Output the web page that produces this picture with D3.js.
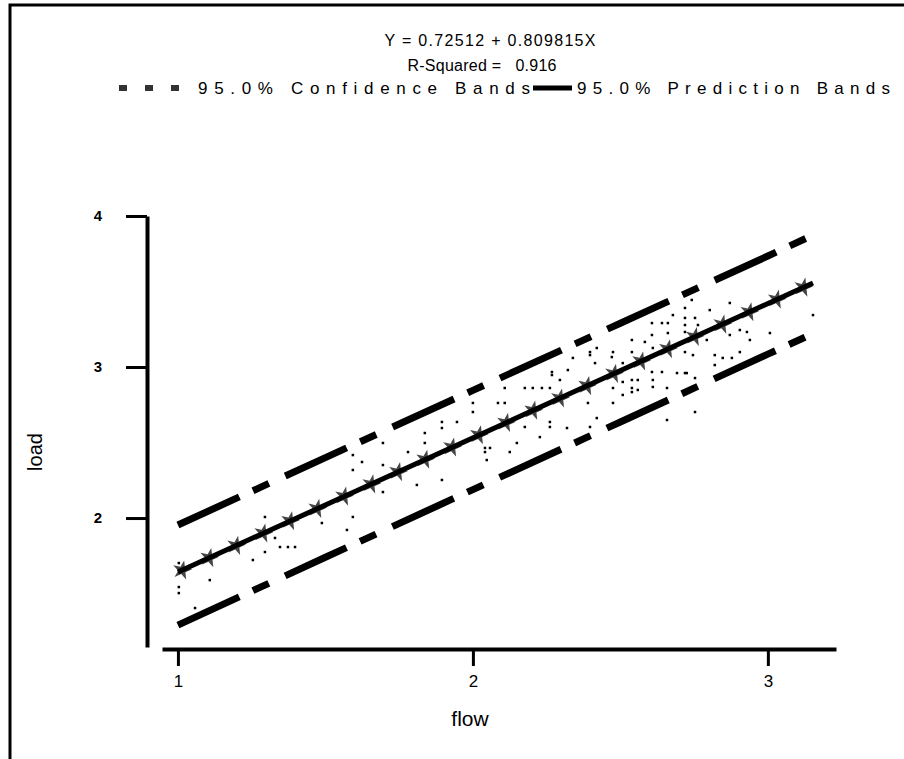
<!DOCTYPE html>
<html>
<head>
<meta charset="utf-8">
<script src="https://cdn.jsdelivr.net/npm/d3@7"></script>
<style>
    body { margin: 0; background: white; }
    text { font-family: "Liberation Sans Narrow", "Arial Narrow", "Liberation Sans", sans-serif; fill: black; }
</style>
</head>
<body>
<div id="canvas"><svg id="chart"></svg></div>
<script>
const flowTicks = [1, 2, 3];
const loadTicks = [2, 3, 4];

const fitFlow = [1.0, 3.153];
const fitLoad = [1.642, 3.556];

const bandFlow = [1.0, 1.5, 2.0, 2.5, 3.0, 3.145];
const upperBand = [1.954, 2.40, 2.845, 3.29, 3.735, 3.866];
const lowerBand = [1.291, 1.74, 2.188, 2.636, 3.085, 3.214];

const starFlow = [1.014, 1.106, 1.197, 1.289, 1.380, 1.472, 1.563, 1.655, 1.746, 1.838, 1.929, 2.020,
                  2.112, 2.204, 2.295, 2.387, 2.478, 2.570, 2.661, 2.752, 2.845, 2.937, 3.030, 3.120];
const starLoad = [1.654, 1.736, 1.817, 1.899, 1.980, 2.062, 2.143, 2.224, 2.305, 2.387, 2.468, 2.549,
                  2.631, 2.712, 2.793, 2.875, 2.956, 3.038, 3.119, 3.200, 3.282, 3.364, 3.447, 3.527];

const dotFlow = [2.678, 2.719, 2.719, 2.763, 2.607, 2.641, 2.661, 2.661, 2.607, 2.539, 2.583, 2.420, 2.397, 2.397,
                 2.475, 2.471, 2.539, 2.610, 2.414, 2.339, 2.508, 2.268, 2.268, 2.322, 2.607, 2.641, 2.692, 2.725,
                 2.295, 2.610, 2.539, 2.559, 2.508, 2.475, 2.539, 2.559, 2.539, 2.610, 2.658, 2.108, 2.176, 2.203,
                 2.234, 2.261, 2.508, 2.000, 2.000, 2.085, 2.108, 2.390, 2.475, 2.753, 2.420, 2.261, 2.261, 2.176,
                 2.319, 2.397, 2.658, 2.227, 2.149, 2.041, 2.041, 2.058, 2.125, 2.742, 2.871, 2.803, 2.719, 2.753,
                 2.719, 2.793, 2.929, 2.905, 2.871, 3.007, 2.939, 3.153, 2.820, 2.847, 2.878, 2.905, 2.820, 2.719,
                 2.746, 2.719, 2.753, 1.895, 1.946, 1.895, 1.837, 1.837, 1.695, 1.780, 1.593, 1.624, 1.593, 1.695,
                 2.047, 1.895, 1.810, 1.695, 1.593, 1.488, 1.573, 1.295, 1.329, 1.346, 1.373, 1.397, 1.295, 1.254,
                 1.108, 1.003, 1.003, 1.003, 1.058];
const dotLoad = [3.344, 3.325, 3.278, 3.278, 3.291, 3.291, 3.291, 3.225, 3.212, 3.179, 3.166, 3.126, 3.099, 3.079,
                 3.099, 3.066, 3.099, 3.126, 3.026, 3.060, 3.026, 2.967, 2.947, 2.980, 2.967, 2.967, 2.960, 2.960,
                 2.914, 2.914, 2.914, 2.914, 2.901, 2.861, 2.861, 2.848, 2.834, 2.868, 2.861, 2.861, 2.861, 2.861,
                 2.861, 2.861, 2.815, 2.762, 2.702, 2.762, 2.762, 2.762, 2.762, 2.702, 2.662, 2.636, 2.603, 2.603,
                 2.596, 2.603, 2.649, 2.536, 2.497, 2.464, 2.437, 2.464, 2.437, 3.444, 3.424, 3.377, 3.391, 3.325,
                 3.232, 3.179, 3.232, 3.245, 3.212, 3.225, 3.179, 3.344, 3.079, 3.060, 3.060, 3.099, 3.013, 3.099,
                 3.079, 2.960, 2.927, 2.636, 2.636, 2.596, 2.563, 2.497, 2.497, 2.437, 2.417, 2.371, 2.318, 2.351,
                 2.384, 2.252, 2.219, 2.172, 2.007, 1.967, 1.921, 2.007, 1.868, 1.808, 1.808, 1.808, 1.775, 1.722,
                 1.589, 1.543, 1.503, 1.702, 1.404];

const titleLines = ["Y = 0.72512 + 0.809815X", "R-Squared =   0.916"];
const legendLabels = ["95.0% Confidence Bands", "95.0% Prediction Bands"];

const width = 904, height = 759;

const svg = d3.select("#chart")
    .attr("width", width)
    .attr("height", height)
    .style("display", "block")
    .style("background-color", "white");

// frame
svg.append("path")
    .attr("d", "M10,759 L10,5 L904,5")
    .attr("fill", "none")
    .attr("stroke", "black")
    .attr("stroke-width", 3);

const x = d3.scaleLinear().domain([0.946, 3.231]).range([162, 836]);
const y = d3.scaleLinear().domain([1.146, 4]).range([647, 216]);

// title
svg.append("text")
    .attr("x", 490).attr("y", 46)
    .attr("text-anchor", "middle")
    .attr("font-size", 16)
    .attr("textLength", 211).attr("lengthAdjust", "spacing")
    .text(titleLines[0]);
svg.append("text")
    .attr("x", 482).attr("y", 71)
    .attr("text-anchor", "middle")
    .attr("font-size", 16)
    .attr("textLength", 149).attr("lengthAdjust", "spacing")
    .style("white-space", "pre")
    .text(titleLines[1]);

// legend
const legend = svg.append("g");
legend.selectAll("rect")
    .data([0, 1, 2])
    .join("rect")
        .attr("x", d => 119 + d * 26)
        .attr("y", 85)
        .attr("width", 8)
        .attr("height", 6)
        .attr("fill", "#333");
legend.append("text")
    .attr("x", 198).attr("y", 94)
    .attr("font-size", 17)
    .attr("textLength", 332).attr("lengthAdjust", "spacing")
    .text(legendLabels[0]);
legend.append("line")
    .attr("x1", 533).attr("x2", 572)
    .attr("y1", 88).attr("y2", 88)
    .attr("stroke", "black")
    .attr("stroke-width", 5);
legend.append("text")
    .attr("x", 577).attr("y", 94)
    .attr("font-size", 17)
    .attr("textLength", 313).attr("lengthAdjust", "spacing")
    .text(legendLabels[1]);

// axes
const xAxis = svg.append("g")
    .attr("transform", "translate(0,649)")
    .call(d3.axisBottom(x).tickValues(flowTicks).tickFormat(d3.format("d")).tickSize(17).tickSizeOuter(0));
xAxis.select(".domain").attr("stroke-width", 4);
xAxis.selectAll(".tick line").attr("stroke-width", 3);
xAxis.selectAll(".tick text")
    .attr("y", 26)
    .attr("font-size", 17)
    .attr("font-family", "Liberation Sans Narrow, Arial Narrow, sans-serif");

const yAxis = svg.append("g")
    .attr("transform", "translate(147,0)")
    .call(d3.axisLeft(y).tickValues(loadTicks).tickFormat(d3.format("d")).tickSize(21).tickSizeOuter(0).tickPadding(24));
yAxis.select(".domain").attr("stroke-width", 4);
yAxis.selectAll(".tick line").attr("stroke-width", 3);
yAxis.selectAll(".tick text")
    .attr("font-size", 15)
    .attr("font-weight", "bold")
    .attr("font-family", "Liberation Sans, Arial, sans-serif");

svg.append("text")
    .attr("transform", "translate(42,452) rotate(-90)")
    .attr("text-anchor", "middle")
    .attr("font-size", 20)
    .text("load");
svg.append("text")
    .attr("x", 470).attr("y", 726)
    .attr("text-anchor", "middle")
    .attr("font-size", 21)
    .text("flow");

// data points
const plot = svg.append("g");
plot.append("g")
    .selectAll("rect")
    .data(d3.range(dotFlow.length))
    .join("rect")
        .attr("x", i => x(dotFlow[i]) - 1.25)
        .attr("y", i => y(dotLoad[i]) - 1.25)
        .attr("width", 2.5)
        .attr("height", 2.5)
        .attr("fill", "black");

plot.append("g")
    .selectAll("path")
    .data(d3.range(starFlow.length))
    .join("path")
        .attr("d", d3.symbol(d3.symbolStar, 115))
        .attr("transform", i => `translate(${x(starFlow[i])},${y(starLoad[i])}) rotate(12)`)
        .attr("fill", "#454545");

const line = d3.line().x(d => x(d[0])).y(d => y(d[1]));

plot.append("path")
    .attr("d", line(d3.zip(fitFlow, fitLoad)))
    .attr("fill", "none")
    .attr("stroke", "black")
    .attr("stroke-width", 5);

[upperBand, lowerBand].forEach(band => {
    plot.append("path")
        .attr("d", line(d3.zip(bandFlow, band)))
        .attr("fill", "none")
        .attr("stroke", "black")
        .attr("stroke-width", 7)
        .attr("stroke-dasharray", "67.5,15,17.5,18");
});
</script>
</body>
</html>
